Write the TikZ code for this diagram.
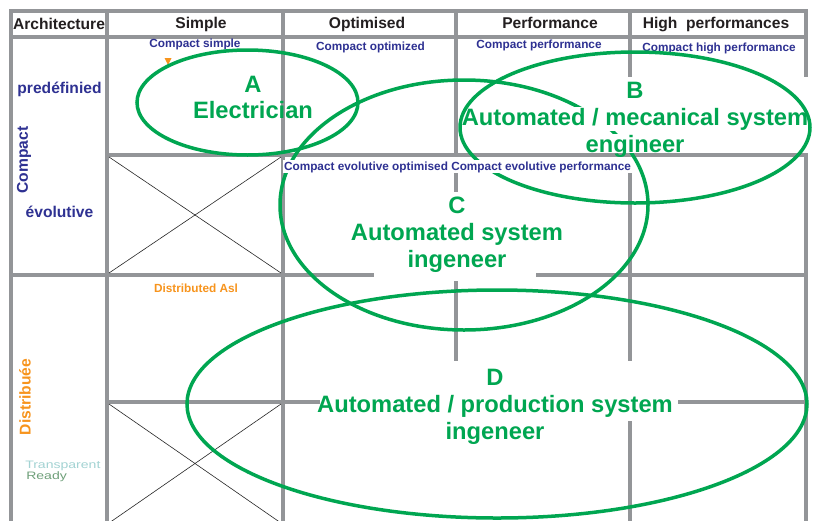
\documentclass[tikz,border=0pt]{standalone}
\usepackage{fontspec}
\setmainfont{Liberation Sans}
\usetikzlibrary{calc}
\definecolor{gridgray}{HTML}{939598}
\definecolor{zonegreen}{HTML}{00A651}
\definecolor{cellblue}{HTML}{2E3192}
\definecolor{cellorange}{HTML}{F7941D}
\definecolor{headblack}{HTML}{231F20}
\definecolor{logoteal}{HTML}{A3D3D3}
\definecolor{logogreen}{HTML}{6FA07A}

\tikzset{
    gridline/.style={draw=gridgray, line width=4pt, line cap=rect},
    crossline/.style={draw=black!85, line width=0.6pt},
    zone/.style={draw=zonegreen, line width=3.5pt},
    headtext/.style={anchor=base, inner sep=0pt, text=headblack, font=\fontsize{15.6}{18}\selectfont\bfseries},
    celltext/.style={anchor=base, inner sep=0pt, font=\fontsize{11.8}{14}\selectfont\bfseries},
    rowtext/.style={inner sep=0pt, font=\fontsize{15.6}{18}\selectfont\bfseries},
    zonetext/.style={anchor=base, inner sep=0pt, text=zonegreen, font=\fontsize{23.7}{27}\selectfont\bfseries},
    logotext/.style={anchor=base west, inner sep=0pt, xscale=1.3, transform shape, font=\fontsize{10.8}{11}\selectfont},
}

\begin{document}
\begin{tikzpicture}[x=1pt, y=-1pt]
        \fill[white] (0,0) rectangle (819,520);
        \useasboundingbox (0,0) rectangle (819,520);

        % table
        \foreach \x/\ya/\yb in {11/11/522, 107/11/522, 283/11/522, 456/11/155, 456/175/190, 456/283/359,
                                630/11/75, 630/175/359, 630/423/522, 806/11/75, 806/157/522} {
            \draw[gridline] (\x,\ya) -- (\x,\yb);
        }
        \foreach \y/\xa/\xb in {11/11/806, 37/11/806, 155/107/806, 275/11/372, 275/538/806,
                                402/107/318, 402/680/806} {
            \draw[gridline] (\xa,\y) -- (\xb,\y);
        }

        % empty cells
        \foreach \ya/\yb in {157/273, 404/523} {
            \draw[crossline] (109,\ya) -- (281,\yb);
            \draw[crossline] (281,\ya) -- (109,\yb);
        }

        % headers
        \node[headtext] (archhead) at (59,29.5) {Architecture};
        \node[headtext] (simplehead) at (201,28) {Simple};
        \node[headtext] (optimhead) at (367,28.5) {Optimised};
        \node[headtext] (perfhead) at (550,28) {Performance};
        \node[headtext] (highhead) at (716,28) {High\ \ performances};

        % rows
        \node[rowtext, text=cellblue, anchor=base] (predef) at (59.5,93.5) {predéfinied};
        \node[rowtext, text=cellblue, anchor=base] (evol) at (59.5,217.5) {évolutive};
        \node[rowtext, text=cellblue, rotate=90] (compact) at (24,160) {Compact};
        \node[rowtext, text=cellorange, rotate=90] (distrib) at (25,397) {Distribuée};

        % cell names
        \node[celltext, text=cellblue] (csimple) at (195,47.5) {Compact simple};
        \node[celltext, text=cellblue] (coptim) at (370.5,50.5) {Compact optimized};
        \node[celltext, text=cellblue] (cperf) at (539,48.5) {Compact performance};
        \node[celltext, text=cellblue] (chigh) at (719,51) {Compact high performance};
        \node[celltext, text=cellorange] (dasl) at (196,292) {Distributed Asl};
        \fill[cellorange] (164.5,58) -- (171.5,58) -- (168,65) -- cycle;

        % logo
        \node[logotext, text=logoteal] (logotop) at (25,468) {Transparent};
        \node[logotext, text=logogreen] (logobot) at (26,479) {Ready};

        % C
        \draw[zone] (464,205) ellipse [x radius=184pt, y radius=125pt];
        \node[zonetext] (ctitle) at (457,213) {C};
        \node[zonetext] (cline) at (457,240) {Automated system};
        \node[zonetext] (cjob) at (457,267) {ingeneer};

        % B
        \node[zonetext, fill=white, inner sep=1pt] (btitle) at (635,98) {B};
        \node[zonetext, fill=white, inner sep=1pt] (bline) at (635,125) {Automated / mecanical system};
        \node[zonetext, fill=white, inner sep=1pt, text depth=0pt] (bjob) at (635,152) {engineer};
        \draw[zone] (635,127.5) ellipse [x radius=175pt, y radius=75.5pt];

        \node[celltext, text=cellblue, fill=white, inner sep=1pt] (cevol) at (457.5,170) {Compact evolutive optimised Compact evolutive performance};

        % A
        \draw[zone] (247.5,102.5) ellipse [x radius=110.5pt, y radius=52.5pt];
        \node[zonetext] (atitle) at (253,92) {A};
        \node[zonetext] (ajob) at (253,118) {Electrician};

        % D
        \draw[zone] (497,404) ellipse [x radius=310pt, y radius=114pt];
        \node[zonetext] (dtitle) at (495,385) {D};
        \node[zonetext] (dline) at (495,412) {Automated / production system};
        \node[zonetext] (djob) at (495,439) {ingeneer};
\end{tikzpicture}
\end{document}
